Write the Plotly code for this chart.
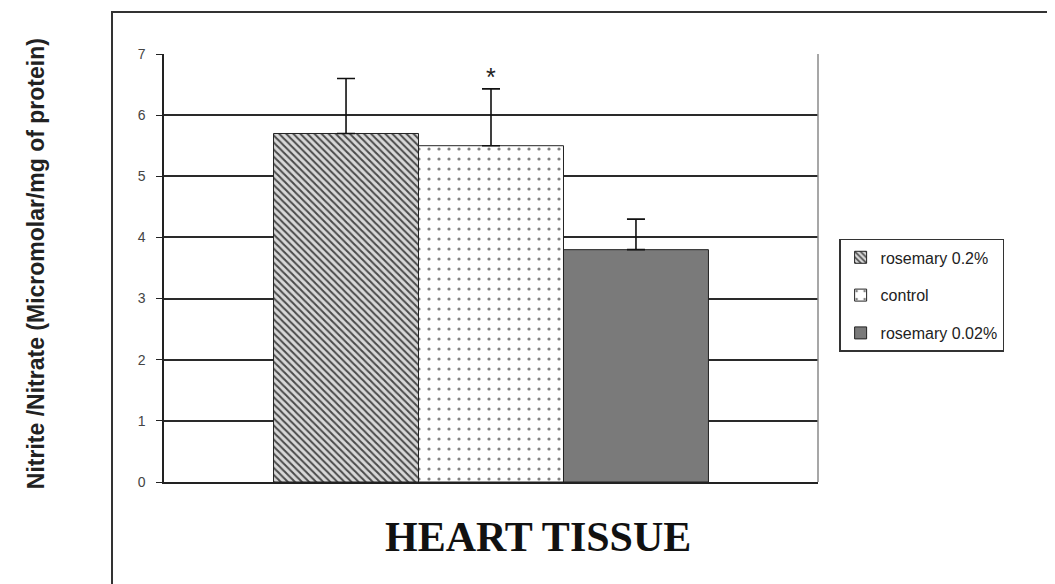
import plotly.graph_objects as go

category = ["HEART TISSUE"]
series_names = ["rosemary 0.2%", "control", "rosemary 0.02%"]
means = [5.7, 5.5, 3.8]
err_up = [0.9, 0.93, 0.5]
y_ticks = [0, 1, 2, 3, 4, 5, 6, 7]

fills = [
    dict(shape="\\", fgcolor="#4a4a4a", bgcolor="#d8d8d8", size=5, solidity=0.4, fillmode="replace"),
    dict(shape=".", fgcolor="#808080", bgcolor="#ffffff", size=10, solidity=0.08, fillmode="replace"),
    None,
]
colors = ["#d8d8d8", "#ffffff", "#7a7a7a"]

fig = go.Figure()
for i, name in enumerate(series_names):
    kw = dict(
        x=category, y=[means[i]], name=name, legendgroup=name,
        marker=dict(color=colors[i], line=dict(color="#222", width=1)),
        error_y=dict(type="data", symmetric=False, array=[err_up[i]], arrayminus=[0],
                     color="#111", thickness=1.6, width=9),
    )
    if fills[i] is not None:
        kw["marker"]["pattern"] = fills[i]
    fig.add_trace(go.Bar(**kw))

# significance star over control
fig.add_annotation(x=category[0], y=means[1] + err_up[1], text="*", showarrow=False,
                   yanchor="bottom", yshift=-4,
                   font=dict(family="Liberation Sans", size=25, color="#222"))

# x-axis caption
fig.add_annotation(xref="paper", yref="paper", x=0.572, y=-0.1285, text="<b>HEART TISSUE</b>",
                   showarrow=False, yanchor="middle",
                   font=dict(family="Liberation Serif", size=42, color="#111"))

# y-axis caption
fig.add_annotation(xref="paper", yref="paper", x=-0.1957, y=0.509, textangle=-90,
                   text="<b>Nitrite /Nitrate (Micromolar/mg of protein)</b>",
                   showarrow=False, xanchor="center", yanchor="middle",
                   font=dict(family="Liberation Sans", size=23, color="#222"))

# right border of plot
fig.add_shape(type="line", xref="x domain", yref="y", x0=1, x1=1, y0=0, y1=7,
              line=dict(color="#8a8a8a", width=1.5))
# outer frame
fig.add_shape(type="rect", xref="paper", yref="paper", x0=-0.0795, x1=1.4, y0=-0.27, y1=1.098,
              line=dict(color="#333", width=2))

fig.update_layout(
    width=1047, height=576,
    margin=dict(l=156, r=237, t=46, b=102),
    paper_bgcolor="white", plot_bgcolor="white",
    barmode="group", bargap=0.335, bargroupgap=0,
    showlegend=True,
    legend=dict(x=1.0323, y=0.568, xanchor="left", yanchor="top",
                bordercolor="#333", borderwidth=1.5, bgcolor="white",
                traceorder="grouped", tracegroupgap=14,
                font=dict(family="Liberation Sans", size=16, color="#222"),
                itemwidth=30),
    xaxis=dict(showticklabels=False, showline=True, linecolor="#222", linewidth=2,
               ticks="", showgrid=False),
    yaxis=dict(range=[0, 7], tickvals=y_ticks, showgrid=True, gridcolor="#2a2a2a", gridwidth=1.5,
               showline=True, linecolor="#222", linewidth=1.5, ticks="outside", ticklen=6,
               tickcolor="#222", zeroline=False, ticklabelstandoff=8,
               tickfont=dict(family="Liberation Sans", size=14, color="#444")),
)

fig.write_html("out.html")
